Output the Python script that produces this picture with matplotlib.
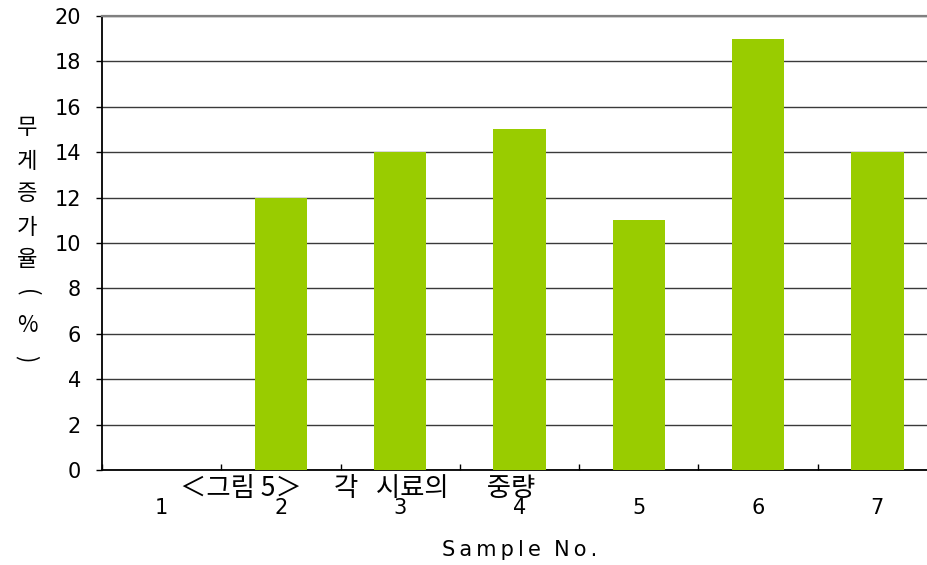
import matplotlib
matplotlib.use("Agg")
import matplotlib.pyplot as plt
import numpy as np

plt.rcParams['font.family'] = ['DejaVu Sans', 'Noto Sans CJK KR']

samples = ["1", "2", "3", "4", "5", "6", "7"]
gain = [0, 12, 14, 15, 11, 19, 14]
y_ticks = [0, 2, 4, 6, 8, 10, 12, 14, 16, 18, 20]
y_title = "무게증가율(%)"
x_title = "\u2009".join("Sample") + "  " + "\u2009".join("No.")
caption = "＜그림 5＞\u3000 각   시료의\u3000  중량"

W, H = 928, 565
fig = plt.figure(figsize=(W / 100, H / 100), dpi=100)
# axes runs off the right edge of the canvas
ax = fig.add_axes([102 / W, 1 - 470 / H, 835 / W, 454 / H])

x = np.arange(len(samples))
ax.bar(x, gain, width=0.44, color="#99cc00", zorder=3)

ax.set_xlim(-0.5, len(samples) - 0.5)
ax.set_ylim(0, 20)
ax.set_yticks(y_ticks)
ax.set_yticklabels([str(v) for v in y_ticks], fontsize=15)
ax.yaxis.grid(True, color="#3a3a3a", linewidth=1.0, zorder=0)
ax.tick_params(axis="y", direction="out", length=4, width=1, pad=11)

# category boundaries as small inward ticks, labels at centres
ax.set_xticks(np.arange(len(samples) + 1) - 0.5)
ax.set_xticklabels([])
ax.tick_params(axis="x", direction="in", length=4, width=1)
for xi, s in zip(x, samples):
    ax.text(xi, -0.083, s, transform=ax.get_xaxis_transform(),
            ha="center", va="center", fontsize=15)

for side in ["left", "bottom"]:
    ax.spines[side].set_color("black")
    ax.spines[side].set_linewidth(1.3)
ax.spines["top"].set_color("#808080")
ax.spines["top"].set_linewidth(1.6)
ax.spines["right"].set_visible(False)

fig.text(520 / W, 1 - 550 / H, x_title, ha="center", va="center", fontsize=15)

# stacked vertical axis title
for i, ch in enumerate(y_title):
    rot = -90 if ch in "()" else 0
    fig.text(27 / W, 1 - (128 + 33 * i) / H, ch, ha="center", va="center",
             fontsize=16, rotation=rot,
             family=['Noto Sans CJK KR', 'DejaVu Sans'])

fig.text(358 / W, 1 - 489 / H, caption, ha="center", va="center",
         fontsize=19, family=['Noto Sans CJK KR', 'DejaVu Sans'])

fig.savefig("out.png", dpi=100)
